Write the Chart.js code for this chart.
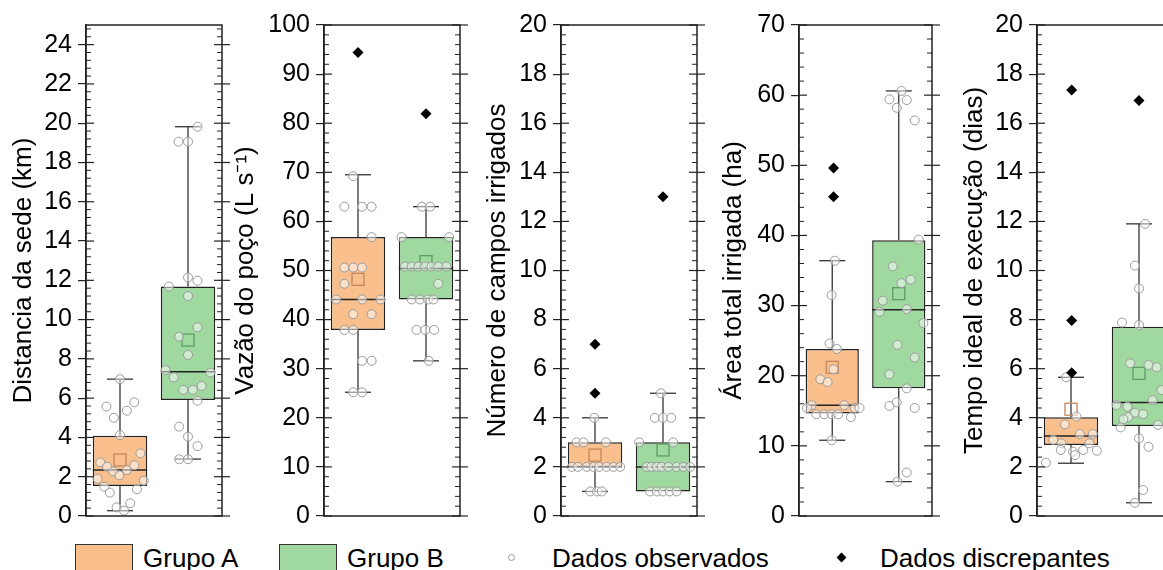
<!DOCTYPE html>
<html>
<head>
<meta charset="utf-8">
<script src="https://cdn.jsdelivr.net/npm/chart.js@4.4.1/dist/chart.umd.min.js"></script>
<style>
  html, body { margin: 0; padding: 0; background: #fff; }
  body { width: 1163px; height: 570px; overflow: hidden; position: relative; font-family: "Liberation Sans", Arial, sans-serif; }
  .painel { position: absolute; top: 0; }
  .leg-caixa { position: absolute; top: 544px; width: 58px; height: 40px; border: 1px solid #333; box-sizing: border-box; }
  .leg-texto { position: absolute; top: 545px; font-size: 26px; line-height: 26px; color: #000; white-space: nowrap; }
  .leg-circulo { position: absolute; left: 508px; top: 554px; width: 7px; height: 7px; border: 1px solid #999; border-radius: 50%; box-sizing: border-box; }
  .leg-losango { position: absolute; left: 838px; top: 554px; width: 7px; height: 7px; background: #000; transform: rotate(45deg); }
</style>
</head>
<body>
<div class="painel" style="left:8px"><canvas id="c1" width="224" height="540"></canvas></div>
<div class="painel" style="left:230px"><canvas id="c2" width="240" height="540"></canvas></div>
<div class="painel" style="left:482px"><canvas id="c3" width="225" height="540"></canvas></div>
<div class="painel" style="left:718px"><canvas id="c4" width="224" height="540"></canvas></div>
<div class="painel" style="left:959px"><canvas id="c5" width="224" height="540"></canvas></div>

<div class="leg-caixa" style="left:75px;background:#F9C08E"></div>
<div class="leg-texto" style="left:143px">Grupo A</div>
<div class="leg-caixa" style="left:279px;background:#A0D9A0"></div>
<div class="leg-texto" style="left:347px">Grupo B</div>
<div class="leg-circulo"></div>
<div class="leg-texto" style="left:552px">Dados observados</div>
<div class="leg-losango"></div>
<div class="leg-texto" style="left:880px">Dados discrepantes</div>

<script>
// Estatísticas de cada caixa: [mín. bigode, Q1, mediana, Q3, máx. bigode, média]
// Pontos: [posição x (1 = Grupo A, 2 = Grupo B), valor]

// Distancia da sede (km)
const distTicks = [0, 2, 4, 6, 8, 10, 12, 14, 16, 18, 20, 22, 24];
const distCaixas = [[0.27, 1.53, 2.34, 4.09, 6.97, 2.85], [2.90, 5.90, 7.35, 11.68, 19.82, 8.96]];
const distObs = [
  [1.00, 6.97], [0.80, 5.57], [0.91, 5.00], [1.10, 5.36], [1.21, 5.79], [1.00, 4.12], [1.30, 3.19],
  [0.71, 2.73], [0.81, 2.51], [0.90, 2.27], [0.99, 2.07], [1.10, 2.34], [1.21, 2.58], [0.67, 1.90],
  [1.35, 1.80], [0.77, 1.49], [0.85, 1.19], [1.25, 1.36], [1.15, 0.65], [0.95, 0.44], [1.06, 0.27],
  [2.14, 19.82], [1.86, 19.06], [2.00, 19.06], [2.00, 12.15], [2.14, 11.98], [1.72, 11.68], [2.00, 11.20],
  [2.14, 9.61], [1.87, 9.13], [2.00, 8.20], [1.67, 7.43], [2.33, 7.30], [1.79, 7.06], [1.93, 6.42],
  [2.07, 6.42], [2.20, 6.62], [2.14, 5.87], [1.87, 4.55], [2.00, 4.04], [2.14, 3.56], [1.87, 2.89], [2.00, 2.89]
];
const distDiscrepantes = [];

// Vazão do poço (L s-1)
const vazaoTicks = [0, 10, 20, 30, 40, 50, 60, 70, 80, 90, 100];
const vazaoCaixas = [[25.2, 37.9, 44.1, 56.8, 69.5, 48.2], [31.6, 44.1, 50.4, 56.8, 63.0, 51.8]];
const vazaoObs = [
  [0.93, 69.2], [0.80, 63.0], [1.06, 63.0], [1.20, 63.0], [1.20, 56.8], [0.80, 50.6], [0.93, 50.6],
  [1.06, 50.6], [0.80, 47.3], [0.68, 44.1], [1.06, 44.1], [1.33, 44.1], [0.93, 41.1], [1.20, 41.1],
  [0.80, 37.9], [0.93, 37.9], [1.06, 31.6], [1.20, 31.6], [0.93, 25.2], [1.06, 25.2],
  [1.94, 63.0], [2.06, 63.0], [1.64, 56.8], [2.34, 56.8], [1.69, 50.8], [1.79, 50.8], [1.89, 50.8],
  [1.99, 50.8], [2.08, 50.8], [2.18, 50.8], [2.30, 50.8], [2.18, 47.3], [1.79, 44.1], [1.91, 44.1],
  [2.03, 44.1], [2.11, 44.1], [1.86, 37.9], [1.99, 37.9], [2.12, 37.9], [2.04, 31.6]
];
const vazaoDiscrepantes = [[1.0, 94.4], [2.0, 81.9]];

// Número de campos irrigados
const camposTicks = [0, 2, 4, 6, 8, 10, 12, 14, 16, 18, 20];
const camposCaixas = [[1, 2, 2, 3, 4, 2.48], [1, 1, 2, 3, 5, 2.69]];
const camposObs = [
  [0.99, 4], [0.73, 3], [0.83, 3], [1.16, 3], [0.66, 2], [0.75, 2], [0.88, 2], [0.98, 2], [1.06, 2],
  [1.17, 2], [1.27, 2], [1.37, 2], [0.93, 1], [1.03, 1], [1.10, 1],
  [1.97, 5], [1.88, 4], [2.00, 4], [2.12, 4], [1.65, 3], [2.15, 3], [1.76, 2], [1.83, 2], [1.91, 2],
  [1.98, 2], [2.08, 2], [2.20, 2], [2.30, 2], [2.40, 2], [1.81, 1], [1.91, 1], [2.00, 1], [2.10, 1], [2.20, 1]
];
const camposDiscrepantes = [[1.0, 7], [1.0, 5], [2.0, 13]];

// Área total irrigada (ha)
const areaTicks = [0, 10, 20, 30, 40, 50, 60, 70];
const areaCaixas = [[10.8, 14.6, 15.8, 23.8, 36.4, 21.2], [4.9, 18.2, 29.4, 39.3, 60.6, 31.7]];
const areaObs = [
  [1.04, 36.4], [0.99, 31.5], [0.96, 24.6], [1.07, 23.8], [1.02, 20.9], [0.82, 19.5], [0.93, 19.1],
  [0.69, 15.8], [1.18, 15.8], [0.62, 15.4], [1.34, 15.4], [1.41, 15.4], [0.76, 14.5], [0.88, 14.5],
  [0.99, 14.5], [1.09, 14.5], [1.28, 14.1], [0.99, 10.8],
  [2.04, 60.6], [1.86, 59.4], [2.12, 59.3], [1.97, 58.2], [2.24, 56.4], [2.30, 39.4], [1.91, 35.6],
  [2.04, 33.2], [2.18, 33.7], [1.76, 30.7], [1.71, 29.1], [2.12, 29.5], [2.37, 27.5], [1.98, 24.4],
  [2.24, 22.6], [1.86, 20.2], [2.12, 18.2], [1.86, 15.7], [1.97, 16.2], [2.24, 15.4], [2.12, 6.2], [1.98, 4.9]
];
const areaDiscrepantes = [[1.02, 49.6], [1.02, 45.5]];

// Tempo ideal de execução (dias)
const tempoTicks = [0, 2, 4, 6, 8, 10, 12, 14, 16, 18, 20];
const tempoCaixas = [[2.15, 2.89, 3.26, 4.02, 5.65, 4.35], [0.54, 3.67, 4.62, 7.71, 11.9, 5.81]];
const tempoObs = [
  [0.93, 5.65], [0.91, 3.73], [1.08, 4.05], [1.13, 3.34], [1.32, 3.34], [0.74, 3.10], [0.86, 2.96],
  [1.27, 2.96], [0.85, 2.69], [1.03, 2.62], [1.18, 2.69], [1.38, 2.66], [1.06, 2.48], [0.63, 2.17],
  [2.09, 11.9], [1.94, 10.2], [2.00, 9.27], [1.75, 7.88], [2.00, 7.78], [1.87, 6.22], [2.14, 6.15],
  [2.26, 6.06], [2.33, 5.13], [2.20, 4.72], [1.67, 4.52], [1.83, 4.45], [1.94, 4.21], [2.06, 4.15],
  [1.84, 4.02], [1.77, 3.94], [2.28, 3.71], [1.73, 3.61], [2.00, 3.16], [2.14, 2.82], [2.06, 1.06], [1.94, 0.54]
];
const tempoDiscrepantes = [[1.01, 17.35], [1.01, 7.96], [1.01, 5.84], [2.0, 16.92]];

const familia = '"Liberation Sans", Arial, sans-serif';
Chart.defaults.font.family = familia;
Chart.defaults.color = '#000';

const corCaixa = ['#F9C08E', '#A0D9A0'];
const corMedia = ['#C4875C', '#5C9E62'];

function linha(ctx, x1, y1, x2, y2) {
  ctx.beginPath();
  ctx.moveTo(x1, y1);
  ctx.lineTo(x2, y2);
  ctx.stroke();
}

// bigodes, mediana e média desenhados logo após as caixas
const caixasPlugin = {
  id: 'caixas',
  afterDatasetDraw(chart, args) {
    if (args.index !== 0) return;
    const ctx = chart.ctx;
    const y = chart.scales.y;
    const meta = chart.getDatasetMeta(0);
    chart.data.datasets[0].estatisticas.forEach((b, i) => {
      const el = meta.data[i];
      const cx = el.x, meia = el.width / 2;
      const [min, q1, med, q3, max, media] = b;
      ctx.save();
      ctx.strokeStyle = '#333';
      ctx.lineWidth = 1.3;
      if (max > q3) {
        linha(ctx, cx, y.getPixelForValue(q3), cx, y.getPixelForValue(max));
        linha(ctx, cx - 13, y.getPixelForValue(max), cx + 13, y.getPixelForValue(max));
      }
      if (min < q1) {
        linha(ctx, cx, y.getPixelForValue(q1), cx, y.getPixelForValue(min));
        linha(ctx, cx - 13, y.getPixelForValue(min), cx + 13, y.getPixelForValue(min));
      }
      ctx.strokeStyle = '#222';
      ctx.lineWidth = 1.5;
      linha(ctx, cx - meia, y.getPixelForValue(med), cx + meia, y.getPixelForValue(med));
      ctx.strokeStyle = corMedia[i];
      ctx.lineWidth = 1.3;
      const ym = y.getPixelForValue(media);
      ctx.strokeRect(cx - 6, ym - 6, 12, 12);
      ctx.restore();
    });
  }
};

// moldura com marcas internas e secundárias
const molduraPlugin = {
  id: 'moldura',
  afterDraw(chart, args, opts) {
    const ctx = chart.ctx, a = chart.chartArea, y = chart.scales.y;
    ctx.save();
    ctx.strokeStyle = '#222';
    ctx.lineWidth = 1.5;
    ctx.strokeRect(a.left, a.top, a.right - a.left, a.bottom - a.top);
    ctx.lineWidth = 1.2;
    y.ticks.forEach(t => {
      const py = y.getPixelForValue(t.value);
      linha(ctx, a.left, py, a.left + 8, py);
      linha(ctx, a.right - 8, py, a.right + 8, py);
    });
    ctx.lineWidth = 1;
    for (let k = 1; k * opts.menor < y.max - 1e-9; k++) {
      const v = k * opts.menor;
      const r = v / opts.maior;
      if (Math.abs(r - Math.round(r)) < 1e-6) continue;
      const py = y.getPixelForValue(v);
      linha(ctx, a.left, py, a.left + 5, py);
      linha(ctx, a.right - 5, py, a.right, py);
    }
    ctx.restore();
  }
};

function criarPainel(id, titulo, ticks, maximo, caixas, obs, discrepantes, larguraEixo, maior) {
  return new Chart(document.getElementById(id), {
    type: 'bar',
    data: {
      datasets: [
        {
          type: 'bar',
          data: caixas.map((b, i) => ({ x: i + 1, y: [b[1], b[3]] })),
          estatisticas: caixas,
          backgroundColor: corCaixa,
          borderColor: '#222',
          borderWidth: 1.5,
          borderSkipped: false,
          categoryPercentage: 1,
          barPercentage: 0.8,
          order: 2
        },
        {
          type: 'scatter',
          data: obs.map(p => ({ x: p[0], y: p[1] })),
          pointRadius: 4.5,
          pointHoverRadius: 4.5,
          pointBorderWidth: 1,
          pointBorderColor: '#9a9a9a',
          pointBackgroundColor: 'rgba(255,255,255,0.5)',
          order: 1
        },
        {
          type: 'scatter',
          data: discrepantes.map(p => ({ x: p[0], y: p[1] })),
          pointStyle: 'rectRot',
          pointRadius: 5.5,
          pointHoverRadius: 5.5,
          pointBorderWidth: 0,
          pointBackgroundColor: '#000',
          order: 0
        }
      ]
    },
    options: {
      responsive: false,
      animation: false,
      events: [],
      layout: { padding: { top: 25, right: 10, bottom: 24, left: 0 } },
      scales: {
        x: { type: 'linear', min: 0.5, max: 2.5, bounds: 'data', offset: false, display: false },
        y: {
          type: 'linear',
          min: 0,
          max: maximo,
          bounds: 'data',
          afterBuildTicks: s => { s.ticks = ticks.map(v => ({ value: v })); },
          afterFit: s => { s.width = larguraEixo; },
          ticks: { font: { size: 25 }, color: '#000', padding: 6, autoSkip: false },
          grid: { drawOnChartArea: false, drawTicks: true, tickLength: 8, color: '#222', lineWidth: 1.2 },
          border: { display: true, color: '#222', width: 1.5 },
          title: { display: true, text: titulo, font: { size: 26 }, color: '#000', padding: 0 }
        }
      },
      plugins: {
        legend: { display: false },
        tooltip: { enabled: false },
        moldura: { maior: maior, menor: maior / 5 }
      }
    },
    plugins: [caixasPlugin, molduraPlugin]
  });
}

criarPainel('c1', 'Distancia da sede (km)', distTicks, 25, distCaixas, distObs, distDiscrepantes, 78, 2);
criarPainel('c2', 'Vazão do poço (L s⁻¹)', vazaoTicks, 100, vazaoCaixas, vazaoObs, vazaoDiscrepantes, 94, 10);
criarPainel('c3', 'Número de campos irrigados', camposTicks, 20, camposCaixas, camposObs, camposDiscrepantes, 79, 2);
criarPainel('c4', 'Área total irrigada (ha)', areaTicks, 70, areaCaixas, areaObs, areaDiscrepantes, 81, 10);
criarPainel('c5', 'Tempo ideal de execução (dias)', tempoTicks, 20, tempoCaixas, tempoObs, tempoDiscrepantes, 78, 2);
</script>
</body>
</html>
